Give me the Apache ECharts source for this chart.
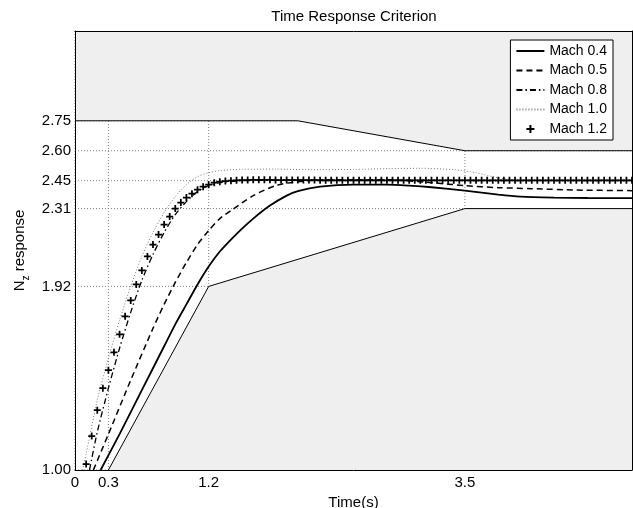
<!DOCTYPE html>
<html>
<head>
<meta charset="utf-8">
<title>Time Response Criterion</title>
<script src="https://cdn.jsdelivr.net/npm/echarts@6/dist/echarts.min.js"></script>
<style>
  html, body { margin: 0; padding: 0; background: #fff; }
  #chart { width: 633px; height: 508px; }
</style>
</head>
<body>
<div id="chart"></div>
<script>
// axis ticks of the original figure
const xTicks = [0, 0.3, 1.2, 3.5];
const yTicks = [1.00, 1.92, 2.31, 2.45, 2.60, 2.75];

// criterion envelope (upper / lower bound)
const upperT = [0, 2.0, 3.5, 5.0];
const upperV = [2.75, 2.75, 2.60, 2.60];
const lowerT = [0.3, 1.2, 3.5, 5.0];
const lowerV = [1.00, 1.92, 2.31, 2.31];

// Mach 0.4
const t04 = [0.23, 0.4, 0.6, 0.8, 0.9, 1.0, 1.1, 1.2, 1.3, 1.4, 1.5, 1.6, 1.75, 1.9, 2.0, 2.2, 2.5, 2.8, 3.0, 3.2, 3.5, 3.8, 4.0, 4.3, 4.6, 5.0];
const v04 = [1.00, 1.18, 1.40, 1.62, 1.73, 1.83, 1.93, 2.02, 2.095, 2.155, 2.21, 2.26, 2.325, 2.375, 2.398, 2.42, 2.43, 2.43, 2.425, 2.417, 2.40, 2.38, 2.37, 2.365, 2.363, 2.362];

// Mach 0.5
const t05 = [0.165, 0.3, 0.5, 0.7, 0.8, 0.9, 1.0, 1.1, 1.2, 1.3, 1.4, 1.6, 1.8, 2.0, 2.3, 2.8, 3.2, 3.5, 3.8, 4.1, 4.5, 5.0];
const v05 = [1.00, 1.18, 1.45, 1.71, 1.83, 1.94, 2.04, 2.13, 2.20, 2.26, 2.30, 2.375, 2.425, 2.445, 2.455, 2.455, 2.44, 2.425, 2.415, 2.41, 2.403, 2.40];

// Mach 0.8
const t08 = [0.13, 0.2, 0.3, 0.4, 0.5, 0.6, 0.7, 0.8, 0.9, 1.0, 1.1, 1.2, 1.3, 1.5, 2.0, 3.0, 4.0, 5.0];
const v08 = [1.00, 1.19, 1.41, 1.61, 1.79, 1.95, 2.08, 2.19, 2.28, 2.345, 2.395, 2.425, 2.44, 2.45, 2.452, 2.452, 2.45, 2.45];

// Mach 1.0
const t10 = [0.07, 0.1, 0.2, 0.3, 0.4, 0.5, 0.6, 0.7, 0.8, 0.9, 1.0, 1.1, 1.2, 1.3, 1.5, 1.8, 2.1, 2.5, 2.8, 3.1, 3.4, 3.6, 3.75, 3.9, 4.1, 4.5, 5.0];
const v10 = [1.00, 1.08, 1.35, 1.56, 1.75, 1.92, 2.07, 2.19, 2.29, 2.37, 2.43, 2.47, 2.49, 2.50, 2.507, 2.508, 2.505, 2.506, 2.51, 2.512, 2.505, 2.49, 2.47, 2.455, 2.45, 2.45, 2.45];

// Mach 1.2 (markers only)
const t12 = [0.10, 0.15, 0.20, 0.25, 0.30, 0.35, 0.40, 0.45, 0.50, 0.55, 0.60, 0.65, 0.70, 0.75, 0.80, 0.85, 0.90, 0.95,
  1.00, 1.05, 1.10, 1.15, 1.20, 1.25, 1.30, 1.35, 1.40, 1.45, 1.50, 1.55, 1.60, 1.65, 1.70, 1.75, 1.80, 1.85, 1.90, 1.95,
  2.00, 2.05, 2.10, 2.15, 2.20, 2.25, 2.30, 2.35, 2.40, 2.45, 2.50, 2.55, 2.60, 2.65, 2.70, 2.75, 2.80, 2.85, 2.90, 2.95,
  3.00, 3.05, 3.10, 3.15, 3.20, 3.25, 3.30, 3.35, 3.40, 3.45, 3.50, 3.55, 3.60, 3.65, 3.70, 3.75, 3.80, 3.85, 3.90, 3.95,
  4.00, 4.05, 4.10, 4.15, 4.20, 4.25, 4.30, 4.35, 4.40, 4.45, 4.50, 4.55, 4.60, 4.65, 4.70, 4.75, 4.80, 4.85, 4.90, 4.95, 5.00];
const v12 = [1.03, 1.17, 1.30, 1.41, 1.50, 1.59, 1.68, 1.77, 1.85, 1.93, 2.00, 2.07, 2.13, 2.18, 2.23, 2.27, 2.31, 2.34,
  2.365, 2.385, 2.405, 2.42, 2.43, 2.44, 2.445, 2.448, 2.45, 2.452, 2.453, 2.453, 2.454, 2.454, 2.454, 2.454, 2.453, 2.453, 2.453, 2.453,
  2.453, 2.453, 2.453, 2.453, 2.452, 2.452, 2.452, 2.452, 2.452, 2.452, 2.452, 2.452, 2.452, 2.452, 2.452, 2.452, 2.452, 2.452, 2.452, 2.452,
  2.452, 2.452, 2.452, 2.452, 2.452, 2.452, 2.452, 2.452, 2.452, 2.452, 2.452, 2.452, 2.452, 2.452, 2.452, 2.452, 2.452, 2.452, 2.452, 2.452,
  2.452, 2.452, 2.452, 2.452, 2.452, 2.452, 2.452, 2.452, 2.452, 2.452, 2.452, 2.452, 2.452, 2.452, 2.452, 2.452, 2.452, 2.452, 2.452, 2.452, 2.452];

const font = "'Liberation Sans', Arial, sans-serif";
const gray = '#efefef';
const plus = 'path://M3,0H5V3H8V5H5V8H3V5H0V3H3Z';

const pairs = (t, v) => t.map((x, i) => [x, v[i]]);

const chart = echarts.init(document.getElementById('chart'), null, { renderer: 'canvas' });

// dotted grid lines, drawn under the gray envelope so they only show in the white band
const gridSeries = [];
xTicks.forEach(x => {
  gridSeries.push({
    type: 'line', z: 1, silent: true, symbol: 'none',
    data: [[x, 1.0], [x, 3.2]],
    lineStyle: { color: '#808080', width: 1, type: [1, 2] }
  });
});
yTicks.forEach(y => {
  gridSeries.push({
    type: 'line', z: 1, silent: true, symbol: 'none',
    data: [[0, y], [5, y]],
    lineStyle: { color: '#808080', width: 1, type: [1, 2] }
  });
});

const plainAxis = {
  type: 'value',
  z: 10,
  axisLine: { show: true, onZero: false, lineStyle: { color: '#000', width: 1 } },
  axisTick: { show: false },
  splitLine: { show: false }
};

const lineOnly = { opacity: 0 };

chart.setOption({
  animation: false,
  backgroundColor: '#fff',
  title: {
    text: 'Time Response Criterion',
    left: 354,
    top: 9,
    textAlign: 'center',
    padding: 0,
    textStyle: { fontFamily: font, fontSize: 15, fontWeight: 'normal', color: '#000' }
  },
  legend: {
    data: [
      { name: 'Mach 0.4', itemStyle: lineOnly },
      { name: 'Mach 0.5', itemStyle: lineOnly },
      { name: 'Mach 0.8', itemStyle: lineOnly },
      { name: 'Mach 1.0', itemStyle: lineOnly },
      { name: 'Mach 1.2' }
    ],
    orient: 'vertical',
    right: 20,
    top: 40,
    backgroundColor: '#fff',
    borderColor: '#000',
    borderWidth: 1,
    borderRadius: 0,
    padding: [3, 6, 3, 5],
    itemWidth: 28,
    itemHeight: 10,
    itemGap: 3.5,
    selectedMode: false,
    textStyle: { fontFamily: font, fontSize: 14, color: '#000', lineHeight: 16 }
  },
  grid: { left: 75, right: 1, top: 31, bottom: 38, containLabel: false, outerBoundsMode: 'none' },
  xAxis: [
    Object.assign({}, plainAxis, {
      min: 0, max: 5, position: 'bottom',
      axisLabel: {
        customValues: xTicks, color: '#000', fontFamily: font, fontSize: 15, margin: 5,
        formatter: v => String(v)
      },
      name: 'Time(s)',
      nameLocation: 'middle',
      nameGap: 19,
      nameTextStyle: { fontFamily: font, fontSize: 15, color: '#000' }
    }),
    Object.assign({}, plainAxis, { min: 0, max: 5, position: 'top', axisLabel: { show: false } })
  ],
  yAxis: [
    Object.assign({}, plainAxis, {
      min: 1.0, max: 3.2, position: 'left',
      axisLabel: {
        customValues: yTicks, color: '#000', fontFamily: font, fontSize: 15, margin: 4,
        formatter: v => v.toFixed(2)
      },
      name: '{n|N}{s|z}{n| response}',
      nameLocation: 'middle',
      nameRotate: 90,
      nameGap: 41,
      nameTextStyle: {
        rich: {
          n: { fontFamily: font, fontSize: 15, color: '#000', lineHeight: 22, verticalAlign: 'middle' },
          s: { fontFamily: font, fontSize: 10, color: '#000', lineHeight: 11, verticalAlign: 'bottom' }
        }
      }
    }),
    Object.assign({}, plainAxis, { min: 1.0, max: 3.2, position: 'right', axisLabel: { show: false } })
  ],
  series: gridSeries.concat([
    {
      name: 'upper', type: 'line', z: 2, silent: true, symbol: 'none',
      data: pairs(upperT, upperV),
      lineStyle: { color: '#000', width: 1 },
      areaStyle: { color: gray, opacity: 1, origin: 'end' }
    },
    {
      name: 'lower', type: 'line', z: 2, silent: true, symbol: 'none',
      data: pairs(lowerT, lowerV),
      lineStyle: { color: '#000', width: 1 },
      areaStyle: { color: gray, opacity: 1, origin: 'start' }
    },
    {
      name: 'Mach 0.4', type: 'line', z: 3, symbol: 'none', smooth: 0.25,
      data: pairs(t04, v04),
      itemStyle: { color: '#000' },
      lineStyle: { color: '#000', width: 1.8, type: 'solid' }
    },
    {
      name: 'Mach 0.5', type: 'line', z: 3, symbol: 'none', smooth: 0.25,
      data: pairs(t05, v05),
      itemStyle: { color: '#000' },
      lineStyle: { color: '#000', width: 1.5, type: [6, 4] }
    },
    {
      name: 'Mach 0.8', type: 'line', z: 3, symbol: 'none', smooth: 0.25,
      data: pairs(t08, v08),
      itemStyle: { color: '#000' },
      lineStyle: { color: '#000', width: 1.3, type: [6, 3, 1.5, 3] }
    },
    {
      name: 'Mach 1.0', type: 'line', z: 3, symbol: 'none', smooth: 0.25,
      data: pairs(t10, v10),
      itemStyle: { color: '#777' },
      lineStyle: { color: '#777', width: 1, type: [1, 2] }
    },
    {
      name: 'Mach 1.2', type: 'line', z: 4,
      data: pairs(t12, v12),
      symbol: plus, symbolSize: 7, showSymbol: true,
      itemStyle: { color: '#000' },
      lineStyle: { width: 0, opacity: 0 }
    }
  ])
});
</script>
</body>
</html>
